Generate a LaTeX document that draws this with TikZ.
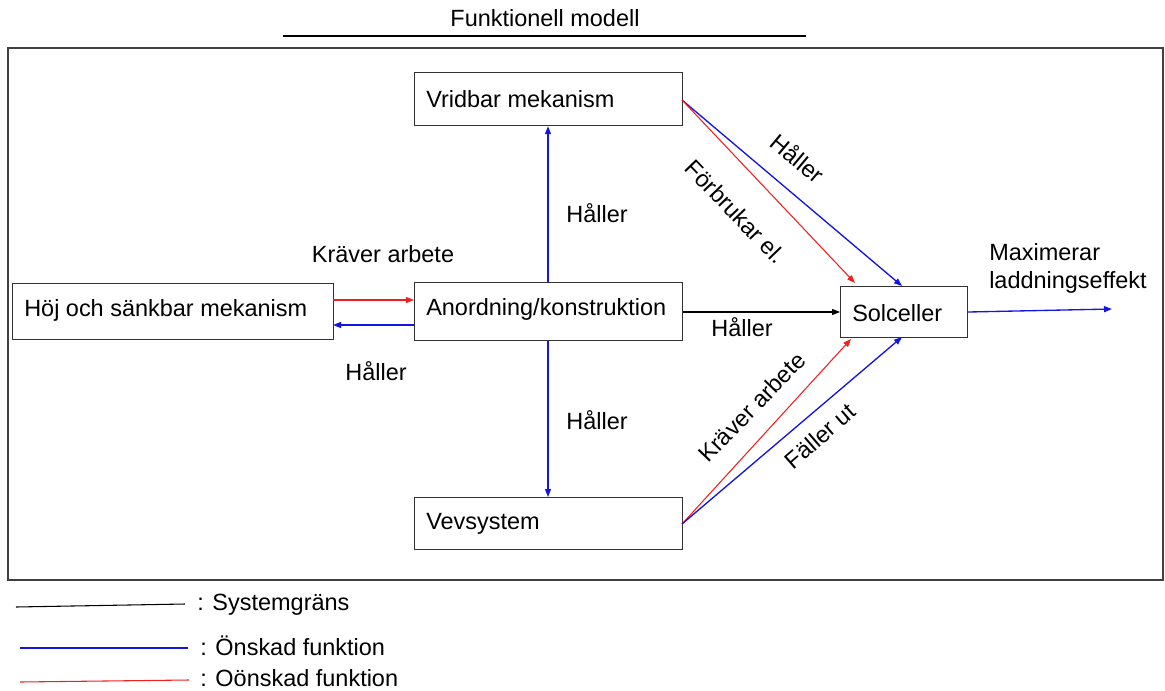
\documentclass[tikz,border=0pt]{standalone}
\usepackage{fontspec}
\setmainfont{Liberation Sans}
\usetikzlibrary{arrows.meta}
\definecolor{wantc}{RGB}{20,20,230}
\definecolor{unwantc}{RGB}{245,30,30}
\begin{document}
\begin{tikzpicture}[x=0.75pt,y=-0.75pt,
  box/.style={draw=black!80,line width=0.9pt,inner sep=0pt,anchor=north west},
  lbl/.style={font=\fontsize{17.6}{21}\selectfont,inner sep=0pt},
  tip/.style={-{Triangle[length=6pt,width=4.5pt]}},
  want/.style={tip,draw=wantc,line width=1pt},
  unwant/.style={tip,draw=unwantc,line width=0.8pt},
  neutral/.style={tip,draw=black,line width=0.8pt}]
\useasboundingbox (0,0) rectangle (1165,690);
% title
\node[lbl] (title) at (545,18) {Funktionell modell};
\draw[line width=0.9pt] (283,36) -- (806,36);
% system boundary
\draw[draw=black!75,line width=1pt] (8,48) rectangle (1163,580);
% boxes
\node[box,minimum width=321pt*0.75,minimum height=56pt*0.75] (hoj) at (12,283) {};
\node[lbl,anchor=west] at (24,310) {Höj och sänkbar mekanism};
\node[box,minimum width=268pt*0.75,minimum height=58pt*0.75] (anord) at (414,282) {};
\node[lbl,anchor=west] at (426,309) {Anordning/konstruktion};
\node[box,minimum width=268pt*0.75,minimum height=53pt*0.75] (vrid) at (414,72) {};
\node[lbl,anchor=west] at (426,99) {Vridbar mekanism};
\node[box,minimum width=268pt*0.75,minimum height=52pt*0.75] (vev) at (414,497) {};
\node[lbl,anchor=west] at (426,524) {Vevsystem};
\node[box,minimum width=127pt*0.75,minimum height=51pt*0.75] (sol) at (840,286) {};
\node[lbl,anchor=west] at (852,313) {Solceller};
% connection points
\coordinate (hojA) at (333,300);
\coordinate (anordA) at (414,300);
\coordinate (hojB) at (333,325);
\coordinate (anordB) at (414,325);
% arrows
\draw[unwant] (hojA) -- (anordA);
\draw[want] (anordB) -- (hojB);
\draw[want] (anord.north -| 548,0) -- (vrid.south -| 548,0);
\draw[want] (anord.south -| 548,0) -- (vev.north -| 548,0);
\draw[neutral] (anord.east |- 0,312) -- (sol.west |- 0,312);
\coordinate (vridE) at (682,100);
\coordinate (vevE) at (682,524);
\draw[want] (vridE) -- (902,286);
\draw[unwant] (vridE) -- (855,283);
\draw[unwant] (vevE) -- (851,339);
\draw[want] (vevE) -- (902,337);
\coordinate (out) at (1112,309);
\draw[want] (sol.east |- 0,312) -- (out);
% labels
\node[lbl] at (383,254) {Kräver arbete};
\node[lbl] at (376,371) {Håller};
\node[lbl] at (597,213) {Håller};
\node[lbl] at (597,420) {Håller};
\node[lbl] at (742,327) {Håller};
\node[lbl,rotate=-40] at (798,158) {Håller};
\node[lbl,rotate=-46] at (736,212) {Förbrukar el.};
\node[lbl,rotate=46] at (752,407) {Kräver arbete};
\node[lbl,rotate=41] at (820,436) {Fäller ut};
\node[lbl,align=left,anchor=west] at (989,268) {Maximerar\\laddningseffekt};
% legend
\coordinate (l1a) at (16,607); \coordinate (l1b) at (185,604);
\coordinate (l2a) at (20,648); \coordinate (l2b) at (188,648);
\coordinate (l3a) at (20,682); \coordinate (l3b) at (189,680);
\draw[black,line width=0.8pt] (l1a) -- (l1b);
\draw[wantc,line width=0.8pt] (l2a) -- (l2b);
\draw[unwantc,line width=0.8pt] (l3a) -- (l3b);
\node[lbl,anchor=west] at (197,605) {: Systemgräns};
\node[lbl,anchor=west] at (200,646) {: Önskad funktion};
\node[lbl,anchor=west] at (200,678) {: Oönskad funktion};
\end{tikzpicture}
\end{document}
